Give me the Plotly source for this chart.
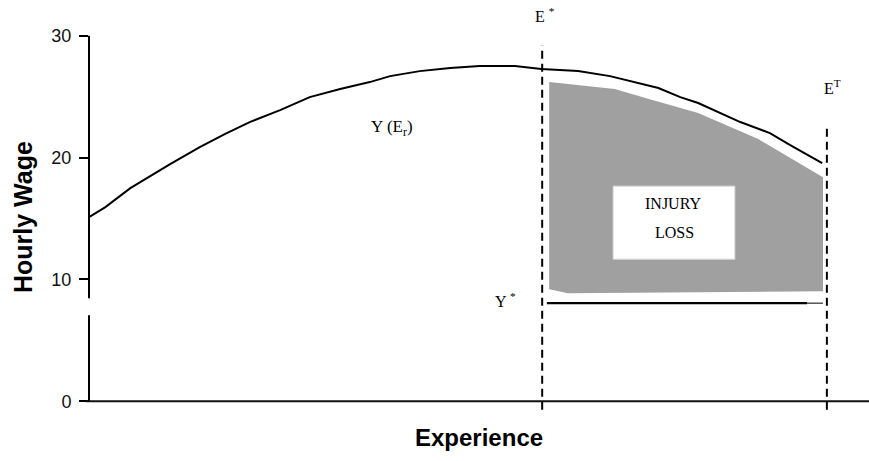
import plotly.graph_objects as go

# ---- data (experience on an arbitrary 0-100 scale, wage in $/hour) ----
exp_curve = [0, 2.1, 5.3, 7.8, 10.4, 14.2, 17.4, 20.6, 24.5, 28.3, 32.2, 36.0, 38.6,
             42.4, 46.3, 50.1, 54.6, 58.0, 62.7, 66.8, 73.0, 75.8, 78.1, 83.5, 87.3, 89.9, 94.0]
wage_curve = [15.11, 15.93, 17.49, 18.47, 19.46, 20.85, 21.92, 22.91, 23.89, 24.96, 25.62, 26.19, 26.68,
              27.09, 27.34, 27.50, 27.50, 27.26, 27.09, 26.68, 25.70, 24.96, 24.47, 22.91, 22.00, 21.02, 19.54]

loss_x = [59.0, 67.4, 71.9, 78.1, 85.8, 94.1, 94.1, 61.4, 59.0, 59.0]
loss_y = [26.19, 25.62, 24.79, 23.65, 21.51, 18.39, 9.03, 8.87, 9.20, 26.19]

box_x = [67.2, 82.8, 82.8, 67.2, 67.2]
box_y = [17.65, 17.65, 11.66, 11.66, 17.65]

e_star = 58.1
e_term = 94.6
e_star_top = 29.2
e_term_top = 22.5
dash_bottom = -0.7

y_star = 8.05
y_star_x = [58.7, 92.05]
y_star_tail_x = [92.05, 94.1]

y_ticks = [0, 10, 20, 30]
y_tick_text = ["0", "10", "20", "30"]
axis_break = [8.45, 7.05]

serif = "Liberation Serif, Times New Roman, serif"
sans = "Liberation Sans, Arial, sans-serif"

W, H = 869, 461
ML, MR, MT, MB = 89, 0, 32, 50
PW, PH = W - ML - MR, H - MT - MB


def px_to_paper(px, py):
    return (px - ML) / PW, (H - MB - py) / PH


fig = go.Figure()

# injury-loss area
fig.add_trace(go.Scatter(x=loss_x, y=loss_y, mode="lines", fill="toself",
                         fillcolor="#a0a0a0", line=dict(width=0), hoverinfo="skip"))
# white label box
fig.add_trace(go.Scatter(x=box_x, y=box_y, mode="lines", fill="toself",
                         fillcolor="white", line=dict(color="#dcdcdc", width=1), hoverinfo="skip"))
# wage profile
fig.add_trace(go.Scatter(x=exp_curve, y=wage_curve, mode="lines",
                         line=dict(color="black", width=2), hoverinfo="skip"))
# Y* line
fig.add_trace(go.Scatter(x=y_star_x, y=[y_star, y_star], mode="lines",
                         line=dict(color="black", width=2.2), hoverinfo="skip"))
fig.add_trace(go.Scatter(x=y_star_tail_x, y=[y_star, y_star], mode="lines",
                         line=dict(color="black", width=1), hoverinfo="skip"))
# dashed verticals
fig.add_trace(go.Scatter(x=[e_star, e_star], y=[dash_bottom, e_star_top], mode="lines",
                         line=dict(color="black", width=2, dash="8px,5px"), hoverinfo="skip"))
fig.add_trace(go.Scatter(x=[e_term, e_term], y=[dash_bottom, e_term_top], mode="lines",
                         line=dict(color="black", width=2, dash="8px,5px"), hoverinfo="skip"))

# axis lines (y axis with a break)
shapes = [
    dict(type="line", xref="paper", yref="y", x0=-0.004, x1=1, y0=0, y1=0,
         line=dict(color="#111", width=2)),
    dict(type="line", xref="paper", yref="y", x0=0, x1=0, y0=30, y1=axis_break[0],
         line=dict(color="black", width=2)),
    dict(type="line", xref="paper", yref="y", x0=0, x1=0, y0=axis_break[1], y1=0,
         line=dict(color="black", width=2)),
]

serif_labels = [
    (545, 15, "E <sup>*</sup>", 16),
    (832, 87, "E<sup>T</sup>", 16),
    (392, 128, "Y (E<sub>r</sub>)", 17),
    (505, 300, "Y <sup>*</sup>", 16),
    (673, 203, "INJURY", 16),
    (674, 232, "LOSS", 16),
]
annotations = []
for px, py, t, fs in serif_labels:
    ax, ay = px_to_paper(px, py)
    annotations.append(dict(xref="paper", yref="paper", x=ax, y=ay, text=t,
                            xanchor="center", yanchor="middle", showarrow=False,
                            font=dict(family=serif, size=fs, color="black")))

hx, hy = px_to_paper(23, 217)
ex, ey = px_to_paper(479, 437)
annotations += [
    dict(xref="paper", yref="paper", x=hx, y=hy, xanchor="center", yanchor="middle",
         text="<b>Hourly Wage</b>", textangle=-90, showarrow=False,
         font=dict(family=sans, size=25, color="black")),
    dict(xref="paper", yref="paper", x=ex, y=ey, xanchor="center", yanchor="middle",
         text="<b>Experience</b>", showarrow=False,
         font=dict(family=sans, size=24, color="black")),
]

fig.update_layout(
    width=W, height=H,
    margin=dict(l=ML, r=MR, t=MT, b=MB),
    paper_bgcolor="white", plot_bgcolor="white",
    showlegend=False,
    shapes=shapes,
    annotations=annotations,
    xaxis=dict(range=[0, 100], showgrid=False, zeroline=False, showline=False,
               showticklabels=False, ticks=""),
    yaxis=dict(range=[-0.8, 30.3], showgrid=False, zeroline=False, showline=False,
               tickvals=y_ticks, ticktext=y_tick_text, ticks="outside", ticklen=9,
               tickwidth=2, tickcolor="black", ticklabelstandoff=4,
               tickfont=dict(family=sans, size=18, color="#111")),
)

fig.write_html("out.html", config={"displayModeBar": False},
               post_script="document.body.style.margin='0';document.body.style.overflow='hidden';")
